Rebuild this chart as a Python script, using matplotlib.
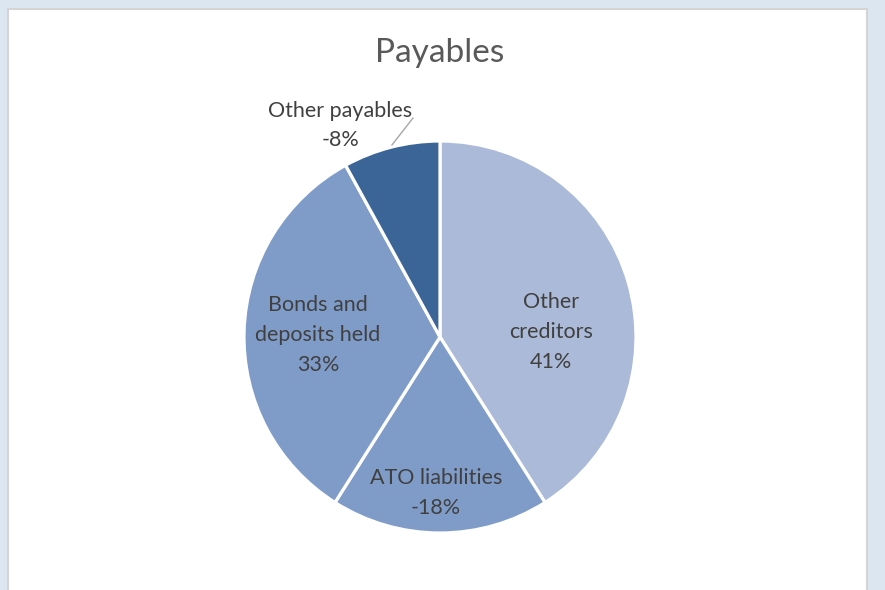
import matplotlib.pyplot as plt
from matplotlib.patches import Rectangle

# data
labels = ["Other creditors", "ATO liabilities", "Bonds and deposits held", "Other payables"]
values = [41, -18, 33, -8]
colors = ["#abbad8", "#7f9cc9", "#7f9cc9", "#3b6497"]
label_text = ["Other\ncreditors", "ATO liabilities", "Bonds and\ndeposits held", "Other payables"]
# label positions (pie radius = 1)
label_pos = [(0.566, 0.026), (-0.02, -0.796), (-0.622, 0.01), (-0.51, 1.08)]

plt.rcParams['font.family'] = ['Lato', 'DejaVu Sans']

fig = plt.figure(figsize=(8.85, 5.9), dpi=100)
fig.patch.set_facecolor("#dce6f1")

bg = fig.add_axes([0, 0, 1, 1], zorder=-1)
bg.set_xlim(0, 885)
bg.set_ylim(0, 590)
bg.axis("off")
bg.add_patch(Rectangle((8, -2), 859, 583, facecolor="white", edgecolor="#d4d4d4", linewidth=1.5))

ax = fig.add_axes([244 / 885, 57 / 590, 392 / 885, 392 / 590])
ax.pie([abs(v) for v in values], colors=colors, startangle=90, counterclock=False,
       wedgeprops=dict(edgecolor="white", linewidth=2.3))
ax.set_xlim(-1, 1)
ax.set_ylim(-1, 1)
ax.set_aspect("equal")
ax.axis("off")

for txt, v, (x, y) in zip(label_text, values, label_pos):
    ax.text(x, y, f"{txt}\n{v}%", ha="center", va="center", fontsize=15.5,
            color="#404040", linespacing=1.6, clip_on=False)

# leader line for the small slice
ax.plot([-0.138, -0.245], [1.117, 0.98], color="#a6a6a6", linewidth=1, clip_on=False)

fig.text(440 / 885, 1 - 53 / 590, "Payables", ha="center", va="center",
         fontsize=24, color="#595959")

fig.savefig("out.png", dpi=100, facecolor=fig.get_facecolor())
